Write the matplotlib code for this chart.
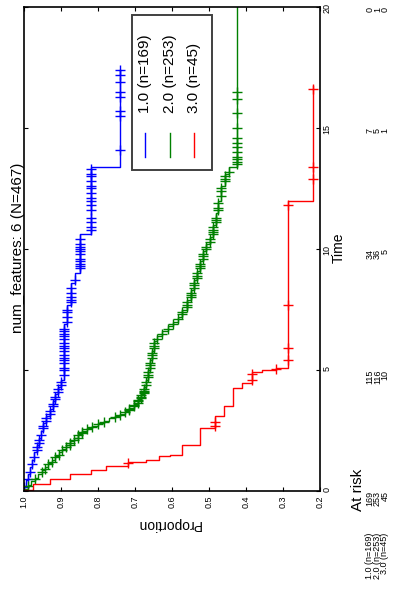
import numpy as np
import matplotlib
matplotlib.use("Agg")
import matplotlib.pyplot as plt
from matplotlib.patches import Rectangle

plt.rcParams['font.family'] = ['Liberation Sans', 'DejaVu Sans']

# Kaplan-Meier steps (event time, survival after event) per group
blue_t = [0, 0.2, 0.45, 0.7, 1.0, 1.3, 1.6, 1.9, 2.2, 2.5, 2.8, 3.1, 3.4, 3.7,
          4.0, 4.3, 4.6, 6.9, 7.7, 8.6, 9.0, 10.6, 13.4]
blue_s = [1.0, 0.995, 0.99, 0.985, 0.978, 0.972, 0.966, 0.96, 0.955, 0.948,
          0.94, 0.93, 0.922, 0.915, 0.908, 0.9, 0.892, 0.883, 0.872, 0.862,
          0.85, 0.82, 0.74]
blue_end = 17.4
blue_cens = [0.15, 0.5, 0.8, 1.1, 1.4, 1.7, 1.8, 2.0, 2.1, 2.3, 2.6, 2.7, 2.9,
             3.0, 3.2, 3.3, 3.5, 3.6, 3.8, 3.9, 4.1, 4.2, 4.4, 4.5, 4.8, 5.0,
             5.1, 5.3, 5.4, 5.5, 5.6, 5.8, 5.9, 6.0, 6.1, 6.3, 6.4, 6.5, 6.6,
             6.7, 7.0, 7.2, 7.4, 7.5, 7.8, 7.9, 8.0, 8.2, 8.4, 8.7, 9.2, 9.3,
             9.4, 9.5, 9.6, 9.8, 9.9, 10.0, 10.1, 10.2, 10.4, 10.8, 10.9, 11.1,
             11.3, 11.6, 11.8, 12.0, 12.1, 12.3, 12.5, 12.6, 12.8, 13.0, 13.1,
             13.3, 14.1, 15.5, 15.7, 16.3, 16.5, 16.9, 17.2, 17.4]

green_t = [0, 0.1, 0.25, 0.4, 0.55, 0.7, 0.85, 1.0, 1.15, 1.3, 1.45, 1.6, 1.75,
           1.9, 2.05, 2.2, 2.35, 2.5, 2.6, 2.7, 2.8, 2.9, 3.0, 3.1, 3.2, 3.3,
           3.45, 3.6, 3.8, 4.0, 4.3, 4.6, 5.0, 5.4, 5.8, 6.2, 6.4, 6.6, 6.8,
           7.0, 7.2, 7.5, 7.9, 8.3, 8.7, 9.1, 9.5, 9.9, 10.2, 10.5, 11.0, 11.5,
           12.0, 12.6, 13.1, 13.4]
green_s = [1.0, 0.99, 0.98, 0.97, 0.962, 0.952, 0.944, 0.934, 0.925, 0.915,
           0.905, 0.896, 0.886, 0.876, 0.866, 0.855, 0.843, 0.83, 0.815, 0.8,
           0.785, 0.77, 0.755, 0.74, 0.728, 0.715, 0.703, 0.692, 0.684, 0.677,
           0.671, 0.666, 0.66, 0.655, 0.648, 0.64, 0.628, 0.612, 0.598, 0.585,
           0.572, 0.56, 0.548, 0.54, 0.532, 0.524, 0.516, 0.508, 0.498, 0.49,
           0.482, 0.477, 0.468, 0.458, 0.445, 0.424]
green_end = 20.0
green_cens = [0.2, 0.5, 0.8, 0.9, 1.1, 1.2, 1.4, 1.5, 1.7, 1.8, 1.9, 2.0, 2.1,
              2.2, 2.3, 2.4, 2.45, 2.55, 2.65, 2.75, 2.85, 3.05, 3.15, 3.25,
              3.35, 3.4, 3.5, 3.55, 3.65, 3.7, 3.75, 3.85, 3.9, 3.95, 4.05, 4.1,
              4.15, 4.2, 4.4, 4.5, 4.7, 4.8, 4.9, 5.1, 5.2, 5.3, 5.5, 5.6, 5.7,
              5.9, 6.0, 6.1, 6.3, 6.5, 6.7, 6.9, 7.1, 7.3, 7.4, 7.6, 7.7, 7.8,
              8.0, 8.1, 8.2, 8.4, 8.5, 8.6, 8.8, 8.9, 9.0, 9.2, 9.3, 9.4, 9.6,
              9.7, 9.8, 10.0, 10.1, 10.3, 10.4, 10.6, 10.7, 10.8, 10.9, 11.1,
              11.2, 11.3, 11.6, 11.7, 11.9, 12.2, 12.4, 12.5, 12.8, 12.9, 13.0,
              13.2, 13.5, 13.6, 13.7, 13.8, 14.0, 14.2, 14.4, 14.6, 15.0, 15.6,
              16.2, 16.5]

red_t = [0, 0.05, 0.3, 0.5, 0.7, 0.85, 1.05, 1.2, 1.3, 1.45, 1.5, 1.9, 2.6,
         3.1, 3.5, 4.25, 4.45, 4.9, 5.0, 5.1, 12.0]
red_s = [1.0, 0.977, 0.93, 0.875, 0.82, 0.778, 0.72, 0.67, 0.636, 0.605,
         0.573, 0.525, 0.484, 0.46, 0.435, 0.41, 0.385, 0.357, 0.32, 0.287,
         0.22]
red_end = 16.75
red_cens = [1.15, 2.7, 2.85, 4.6, 4.85, 5.05, 5.4, 5.9, 7.7, 11.8, 12.9, 13.4,
            16.6]

labels = ["1.0 (n=169)", "2.0 (n=253)", "3.0 (n=45)"]
colors = ["#0000ff", "#008000", "#ff0000"]
risk_times = [0, 5, 10, 15, 20]
risk_counts = [[169, 115, 34, 7, 0],
               [253, 116, 36, 5, 1],
               [45, 10, 5, 1, 0]]

groups = [(blue_t, blue_s, blue_end, blue_cens),
          (green_t, green_s, green_end, green_cens),
          (red_t, red_s, red_end, red_cens)]

W, H = 402, 594
fig = plt.figure(figsize=(W / 100, H / 100), dpi=100)


def fx(px):
    return px / W


def fy(py):
    return 1 - py / H


# chart is drawn turned a quarter turn: proportion runs left->right, time bottom->top
ax = fig.add_axes([fx(24), fy(491), fx(320) - fx(24), fy(7) - fy(491)])
ax.set_xlim(1.0, 0.2)
ax.set_ylim(0, 20)

for (t, s, end, cens), c in zip(groups, colors):
    t_ext = np.append(t, end)
    ys = np.repeat(t_ext, 2)[1:-1]
    xs = np.repeat(s, 2)
    ax.plot(xs, ys, color=c, lw=1.0)
    idx = np.searchsorted(t, cens, side='right') - 1
    ax.plot(np.array(s)[idx], cens, ls='none', marker='+', color=c,
            markersize=7, markeredgewidth=1.0)

ax.set_xticks(np.arange(1.0, 0.15, -0.1))
ax.set_xticklabels([f"{v:.1f}" for v in np.arange(1.0, 0.15, -0.1)])
ax.set_yticks(risk_times)
ax.tick_params(axis='both', direction='in', length=3, width=0.8,
               labelsize=6.5, top=True, bottom=True, left=True, right=True)
ax.tick_params(axis='y', labelleft=False, labelright=True, labelrotation=90,
               pad=2)
ax.tick_params(axis='x', labelrotation=90, pad=3)
for sp in ax.spines.values():
    sp.set_linewidth(1.2)

# legend box built by hand (rotated text)
ax.add_patch(Rectangle((0.365, 0.663), 0.27, 0.32, transform=ax.transAxes,
                       facecolor='white', edgecolor='#404040', lw=1.4,
                       zorder=5))
for i, (lab, c) in enumerate(zip(labels, colors)):
    xa = 0.41 + i * 0.083
    ax.plot([xa, xa], [0.69, 0.74], color=c, lw=1.0,
            transform=ax.transAxes, zorder=6)
    ax.text(xa, 0.78, lab, rotation=90, rotation_mode='anchor',
            ha='left', va='center', fontsize=11, transform=ax.transAxes,
            zorder=6)

fig.text(fx(18), fy(248), "num_features: 6 (N=467)", rotation=90,
         ha='center', va='center', fontsize=11)
fig.text(fx(339), fy(248), "Time", rotation=90, ha='center', va='center',
         fontsize=10)
fig.text(fx(169), fy(524), "Proportion", rotation=180, ha='center',
         va='center', fontsize=10)

# at-risk table
fig.text(fx(358), fy(490), "At risk", rotation=90, ha='center', va='center',
         fontsize=11)
for i, (lab, counts) in enumerate(zip(labels, risk_counts)):
    xp = fx(370 + i * 7.5)
    for tt, n in zip(risk_times, counts):
        ypx = 491 - tt * 24.2
        fig.text(xp, fy(ypx), str(n), rotation=90, rotation_mode='anchor',
                 ha='right', va='center', fontsize=6.5)
    fig.text(xp, fy(533), lab, rotation=90, rotation_mode='anchor',
             ha='right', va='center', fontsize=6.5)

fig.savefig("out.png", dpi=100)
